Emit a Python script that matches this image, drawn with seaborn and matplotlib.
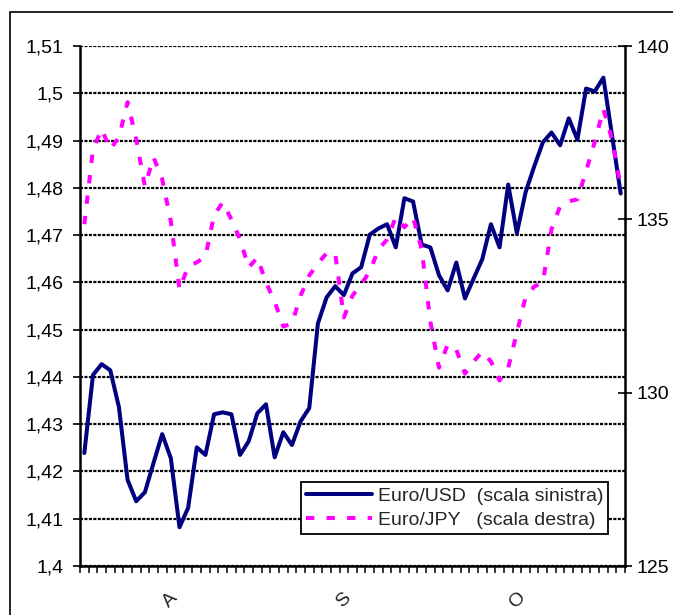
import numpy as np
import pandas as pd
import matplotlib
matplotlib.use("Agg")
import matplotlib.pyplot as plt
import seaborn as sns
from matplotlib.ticker import FixedLocator, FuncFormatter
from matplotlib.patches import Rectangle

# Daily exchange rates, August - October
eur_usd = [1.4239, 1.4404, 1.4427, 1.4414, 1.4336, 1.4182, 1.4137, 1.4156, 1.4218, 1.4279,
           1.4228, 1.4082, 1.4123, 1.4251, 1.4235, 1.4321, 1.4325, 1.4321, 1.4235, 1.4264,
           1.4323, 1.4342, 1.4230, 1.4283, 1.4256, 1.4306, 1.4334, 1.4513, 1.4568, 1.4592,
           1.4573, 1.4619, 1.4632, 1.4701, 1.4714, 1.4723, 1.4674, 1.4778, 1.4771, 1.4680,
           1.4674, 1.4615, 1.4583, 1.4642, 1.4566, 1.4608, 1.4649, 1.4723, 1.4674, 1.4807,
           1.4704, 1.4790, 1.4845, 1.4896, 1.4917, 1.4890, 1.4947, 1.4902, 1.5010, 1.5004,
           1.5033, 1.4911, 1.4788]
eur_jpy = [134.86, 137.02, 137.60, 137.02, 137.37, 138.38, 137.31, 135.95, 136.79, 136.16,
           134.94, 132.98, 133.64, 133.76, 133.93, 135.12, 135.49, 135.00, 134.42, 133.61,
           133.90, 133.18, 132.63, 131.91, 131.99, 132.80, 133.38, 133.73, 134.02, 134.02,
           132.17, 132.80, 133.12, 133.50, 134.13, 134.42, 135.06, 134.77, 135.06, 134.13,
           132.05, 130.72, 131.39, 131.24, 130.55, 130.90, 131.18, 130.90, 130.35, 130.72,
           131.73, 132.75, 133.06, 133.18, 134.71, 135.38, 135.52, 135.58, 136.39, 137.23,
           138.18, 137.31, 135.95]
month_labels = ["A", "S", "O"]
month_label_obs = [10, 30, 50]
series_names = ["Euro/USD  (scala sinistra)", "Euro/JPY   (scala destra)"]

sns.set_style("white")
plt.rcParams["font.family"] = ["Liberation Sans", "DejaVu Sans"]
plt.rcParams["lines.scale_dashes"] = False

n = len(eur_usd)
df = pd.DataFrame({"obs": np.arange(n), "usd": eur_usd, "jpy": eur_jpy})

W, H = 673, 615
fig = plt.figure(figsize=(W / 100, H / 100), dpi=100)
ax = fig.add_axes([80 / W, 49 / H, 545 / W, 520 / H])

sns.lineplot(data=df, x="obs", y="usd", ax=ax, color="#000080", lw=2.9,
             legend=False, solid_joinstyle="round")
ax2 = ax.twinx()
sns.lineplot(data=df, x="obs", y="jpy", ax=ax2, color="#FF00FF", lw=2.9,
             linestyle=(0, (6.0, 8.8)), dash_capstyle="butt", legend=False)

ax.set_xlim(-0.5, n - 0.5)
ax.set_ylim(1.40, 1.51)
ax2.set_ylim(125, 140)
for a in (ax, ax2):
    a.set_xlabel("")
    a.set_ylabel("")

# left scale
ax.set_yticks(np.round(np.arange(1.40, 1.5101, 0.01), 2))
ax.yaxis.set_major_formatter(FuncFormatter(
    lambda v, _: ("%.2f" % v).rstrip("0").rstrip(".").replace(".", ",")))
ax.tick_params(axis="y", direction="out", length=5, width=1.2, pad=7,
               labelsize=14, colors="black")
ax.yaxis.grid(True, color="black", linestyle=(0, (2.2, 1.0)), lw=1.6)
ax.xaxis.grid(False)

# right scale
ax2.set_yticks([125, 130, 135, 140])
ax2.tick_params(axis="y", direction="inout", length=10, width=1.2, pad=3,
                labelsize=14, colors="black")

# category axis
ax.set_xticks(month_label_obs)
ax.set_xticklabels(month_labels, rotation=45)
ax.tick_params(axis="x", which="major", length=0, pad=17, labelsize=14)
ax.xaxis.set_minor_locator(FixedLocator(np.arange(-0.5, n, 1.0)))
ax.tick_params(axis="x", which="minor", direction="out", length=5, width=1.1,
               color="black", bottom=True)

for s in ("top", "right"):
    ax.spines[s].set_visible(False)
for s in ("top", "left", "bottom"):
    ax2.spines[s].set_visible(False)
for sp in (ax.spines["left"], ax.spines["bottom"], ax2.spines["right"]):
    sp.set_visible(True)
    sp.set_color("black")
    sp.set_linewidth(1.8)

handles = [ax.get_lines()[0], ax2.get_lines()[0]]
leg = ax2.legend(handles, series_names, loc="lower right",
                 bbox_to_anchor=(0.969, 0.0615), borderaxespad=0,
                 frameon=True, fancybox=False, edgecolor="black", framealpha=1,
                 fontsize=14, handlelength=3.4, handletextpad=0.3,
                 borderpad=0.25, labelspacing=0.35)
leg.get_frame().set_linewidth(1.3)

# outer chart border
fig.patches.append(Rectangle((10 / W, -0.1), 1.2, 1 - 12 / H + 0.1,
                             transform=fig.transFigure, fill=False,
                             ec="black", lw=1.2))

fig.savefig("out.png", dpi=100)
